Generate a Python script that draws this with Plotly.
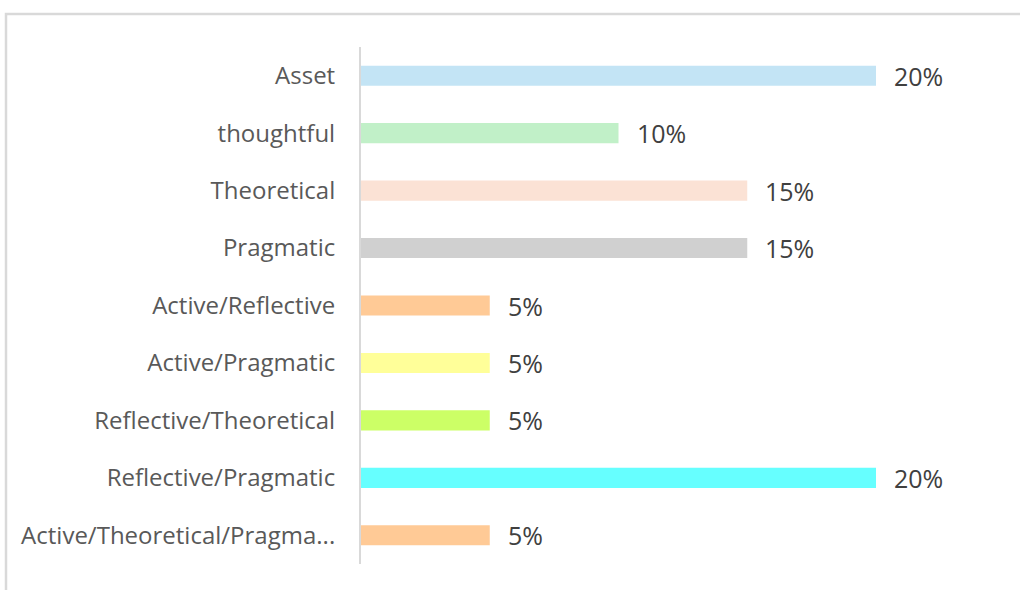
import plotly.graph_objects as go

categories = ["Asset", "thoughtful", "Theoretical", "Pragmatic", "Active/Reflective",
              "Active/Pragmatic", "Reflective/Theoretical", "Reflective/Pragmatic",
              "Active/Theoretical/Pragma..."]
values = [0.20, 0.10, 0.15, 0.15, 0.05, 0.05, 0.05, 0.20, 0.05]
labels = ["20%", "10%", "15%", "15%", "5%", "5%", "5%", "20%", "5%"]
colors = ["#C3E4F5", "#C1F0C8", "#FBE2D5", "#D0D0D0", "#FFCA96",
          "#FFFF99", "#CCFF66", "#66FFFF", "#FFCA96"]

W, H = 1020, 590
L, R, T, B = 361, 20, 47, 26
pw, ph = W - L - R, H - T - B
FONT = "Open Sans"

fig = go.Figure(go.Bar(
    y=categories, x=values, orientation="h",
    marker=dict(color=colors, line=dict(width=0)),
    hoverinfo="x+y",
))

for v, c, t in zip(values, categories, labels):
    fig.add_annotation(x=v, y=c, text=t, showarrow=False, xanchor="left",
                       xshift=16, font=dict(size=25, color="#404040", family=FONT))

def px_x(x):
    return (x - L) / pw

def px_y(y):
    return (H - B - y) / ph

fig.update_layout(
    width=W, height=H,
    margin=dict(l=L, r=R, t=T, b=B),
    paper_bgcolor="white", plot_bgcolor="white",
    bargap=0.65,
    showlegend=False,
    font=dict(family=FONT, color="#595959"),
    xaxis=dict(range=[0, pw / 2575.0], visible=False, fixedrange=True),
    yaxis=dict(autorange="reversed", showline=True, linecolor="#D9D9D9", linewidth=2,
               ticks="", showgrid=False, tickfont=dict(size=24, color="#595959", family=FONT),
               ticklabelstandoff=19),
    shapes=[dict(type="rect", xref="paper", yref="paper",
                 x0=px_x(6), x1=px_x(1040), y0=px_y(610), y1=px_y(14),
                 line=dict(color="#D9D9D9", width=2.5), fillcolor="rgba(0,0,0,0)", layer="below")],
)

fig.write_html("out.html", config={"displayModeBar": False},
               post_script="document.body.style.margin='0';")
